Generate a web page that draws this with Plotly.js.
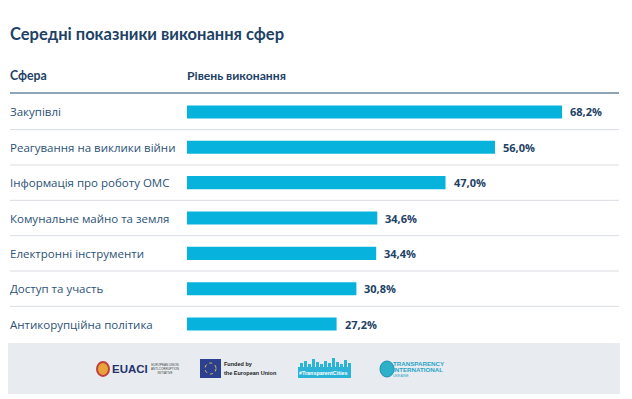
<!DOCTYPE html>
<html>
<head>
<meta charset="utf-8">
<script src="https://cdn.plot.ly/plotly-3.0.1.min.js"></script>
<style>html,body{margin:0;padding:0;background:#fff;}#chart{width:632px;height:399px;}</style>
</head>
<body>
<div id="chart"></div>
<script>
const chartTitle = "Середні показники виконання сфер";
const headerCategory = "Сфера";
const headerValue = "Рівень виконання";
const categories = [
  "Закупівлі",
  "Реагування на виклики війни",
  "Інформація про роботу ОМС",
  "Комунальне майно та земля",
  "Електронні інструменти",
  "Доступ та участь",
  "Антикорупційна політика"
];
const values = [68.2, 56.0, 47.0, 34.6, 34.4, 30.8, 27.2];
const footerLabels = ["EUACI", "Funded by", "the European Union", "#TransparentCities", "TRANSPARENCY", "INTERNATIONAL", "UKRAINE"];

const W = 632, H = 399;
const px = v => v / W;
const py = v => 1 - v / H;
const FONT = "Open Sans, Lato, sans-serif";
const BFONT = "Lato, Open Sans, sans-serif";
const NAVY = "#1d4266";
const TXT = "#2b5277";
const BAR = "#07b3dc";

const trace = {
  type: "bar",
  orientation: "h",
  x: values,
  y: categories,
  marker: {color: BAR},
  width: 0.37,
  hoverinfo: "none"
};

const annotations = [];
annotations.push({xref: "paper", yref: "paper", x: px(8), y: py(34), xanchor: "left", yanchor: "middle",
  text: "<b>" + chartTitle + "</b>", showarrow: false, font: {family: BFONT, size: 16.5, color: NAVY}});
annotations.push({xref: "paper", yref: "paper", x: px(8), y: py(75), xanchor: "left", yanchor: "middle",
  text: "<b>" + headerCategory + "</b>", showarrow: false, font: {family: BFONT, size: 12.3, color: NAVY}});
annotations.push({xref: "paper", yref: "paper", x: px(185), y: py(75), xanchor: "left", yanchor: "middle",
  text: "<b>" + headerValue + "</b>", showarrow: false, font: {family: BFONT, size: 12.2, color: NAVY}});
categories.forEach((c, i) => {
  annotations.push({xref: "paper", yref: "y", x: px(8), y: c, xanchor: "left", yanchor: "middle",
    text: c, showarrow: false, font: {family: FONT, size: 11.5, color: TXT}});
  annotations.push({xref: "x", yref: "y", x: values[i], y: c, xanchor: "left", yanchor: "middle", xshift: 6,
    text: "<b>" + values[i].toFixed(1).replace(".", ",") + "%</b>", showarrow: false,
    font: {family: FONT, size: 11, color: NAVY}});
});

const shapes = [];
shapes.push({type: "line", xref: "paper", yref: "paper", x0: px(10), x1: px(619), y0: py(93), y1: py(93),
  line: {color: "#1f4a6e", width: 1.2}});
for (let i = 0; i < categories.length - 1; i++) {
  shapes.push({type: "line", xref: "paper", yref: "y", x0: px(10), x1: px(619), y0: i + 0.5, y1: i + 0.5,
    line: {color: "#d9dde2", width: 1}});
}
// footer band
shapes.push({type: "rect", xref: "paper", yref: "paper", x0: px(8), x1: px(620), y0: py(394), y1: py(343),
  fillcolor: "#e8ecf1", line: {width: 0}, layer: "below"});
// EUACI icon
shapes.push({type: "circle", xref: "paper", yref: "paper", x0: px(97), x1: px(109), y0: py(376), y1: py(362),
  fillcolor: "#e8a33a", line: {color: "#c2403d", width: 2}});
// EU flag
shapes.push({type: "rect", xref: "paper", yref: "paper", x0: px(200), x1: px(221), y0: py(378), y1: py(359),
  fillcolor: "#2d3f8f", line: {width: 0}});
shapes.push({type: "circle", xref: "paper", yref: "paper", x0: px(205), x1: px(216), y0: py(374), y1: py(363),
  fillcolor: "rgba(0,0,0,0)", line: {color: "#e5c94a", width: 1, dash: "dot"}});
// TransparentCities box
shapes.push({type: "rect", xref: "paper", yref: "paper", x0: px(298), x1: px(351), y0: py(378), y1: py(367),
  fillcolor: "#2bb3d8", line: {width: 0}});
const skyline = [300,304,308,312,316,320,324,328,332,336,340,344,348];
const heights = [4,6,3,8,5,3,6,4,9,5,3,7,4];
skyline.forEach((x, i) => shapes.push({type: "rect", xref: "paper", yref: "paper", x0: px(x), x1: px(x + 3),
  y0: py(367), y1: py(367 - heights[i]), fillcolor: "#2bb3d8", line: {width: 0}}));
// TI icon
shapes.push({type: "circle", xref: "paper", yref: "paper", x0: px(380), x1: px(394), y0: py(377), y1: py(361),
  fillcolor: "#2fb0c9", line: {color: "#1b8fb0", width: 1}});

const small = (x, y, t, size, color, bold) => annotations.push({xref: "paper", yref: "paper", x: px(x), y: py(y),
  xanchor: "left", yanchor: "middle", text: bold ? "<b>" + t + "</b>" : t, showarrow: false,
  font: {family: "Liberation Sans, Arial, sans-serif", size: size, color: color}});
small(110, 369, footerLabels[0], 11.5, "#24336b", true);
small(149, 369, "EUROPEAN UNION<br>ANTI-CORRUPTION<br>INITIATIVE", 3, "#444", false);
small(222, 364, footerLabels[1], 5.5, "#222", true);
small(222, 373, footerLabels[2], 5.5, "#222", true);
small(297, 372.5, footerLabels[3], 5.4, "#ffffff", true);
small(391, 363, footerLabels[4], 6.2, "#2aa5c8", true);
small(391, 369.5, footerLabels[5], 6.2, "#2aa5c8", true);
small(391, 376, footerLabels[6], 3.5, "#2aa5c8", false);

const layout = {
  width: W, height: H,
  margin: {l: 0, r: 0, t: 0, b: 0},
  paper_bgcolor: "#ffffff", plot_bgcolor: "rgba(0,0,0,0)",
  showlegend: false,
  xaxis: {domain: [px(187), px(620)], range: [0, 433 / 5.5], visible: false, fixedrange: true},
  yaxis: {domain: [py(341.7), py(94.3)], type: "category", categoryorder: "array", categoryarray: categories,
    range: [6.5, -0.5], visible: false, fixedrange: true},
  annotations: annotations,
  shapes: shapes
};

Plotly.newPlot("chart", [trace], layout, {displayModeBar: false, staticPlot: true});
</script>
</body>
</html>
